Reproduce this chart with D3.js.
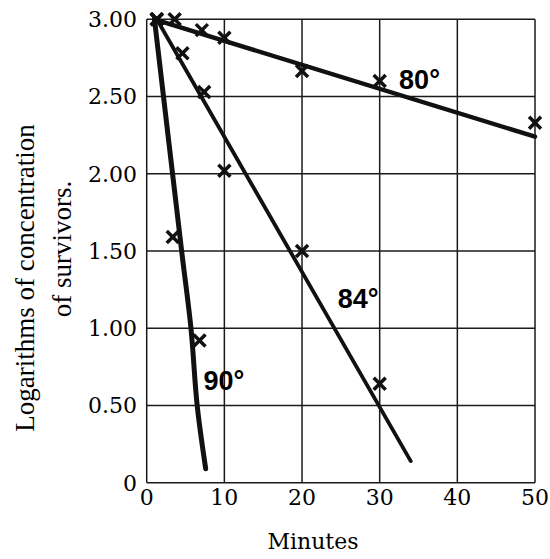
<!DOCTYPE html>
<html>
<head>
<meta charset="utf-8">
<script src="https://cdn.jsdelivr.net/npm/d3@7"></script>
<style>
  html, body { margin: 0; padding: 0; background: #fff; }
  svg { display: block; }
</style>
</head>
<body>
<svg id="chart" width="550" height="559"></svg>
<script>
// ticks
const xTicks = [0, 10, 20, 30, 40, 50];
const xTickLabels = ['0', '10', '20', '30', '40', '50'];
const yTicks = [0, 0.5, 1, 1.5, 2, 2.5, 3];
const yTickLabels = ['0', '0.50', '1.00', '1.50', '2.00', '2.50', '3.00'];

// observed points (minutes, log concentration)
const pts80 = [[1.3, 3.00], [3.6, 3.00], [7.1, 2.93], [10, 2.88], [20, 2.665], [30, 2.60], [50, 2.33]];
const pts84 = [[1.3, 3.00], [4.6, 2.78], [7.4, 2.53], [10, 2.02], [20, 1.50], [30, 0.64]];
const pts90 = [[1.3, 3.00], [3.35, 1.59], [6.8, 0.92]];

// drawn fit lines
const line80 = [[1, 3.00], [50, 2.24]];
const line84 = [[1.3, 3.00], [34, 0.14]];
const line90 = [[1, 3.00], [4.5, 1.5], [5.7, 1.0], [6.5, 0.5], [7.6, 0.09]];

const labels = [
  { text: '80°', at: [32.5, 2.55] },
  { text: '84°', at: [24.6, 1.13] },
  { text: '90°', at: [7.3, 0.60] }
];

const svg = d3.select('#chart');
const x = d3.scaleLinear().domain([0, 50]).range([146.7, 535]);
const y = d3.scaleLinear().domain([0, 3]).range([482.7, 19.3]);

// grid
const grid = svg.append('g').attr('stroke', '#1a1a1a').attr('stroke-width', 1.5);
grid.selectAll('line.v').data(xTicks).enter().append('line')
  .attr('x1', d => x(d)).attr('x2', d => x(d))
  .attr('y1', y(3)).attr('y2', y(0));
grid.selectAll('line.h').data(yTicks).enter().append('line')
  .attr('y1', d => y(d)).attr('y2', d => y(d))
  .attr('x1', x(0)).attr('x2', x(50));

// tick labels
svg.append('g').selectAll('text').data(yTicks).enter().append('text')
  .attr('x', 137).attr('y', d => y(d)).attr('dy', '0.36em')
  .attr('text-anchor', 'end')
  .attr('font-family', 'DejaVu Serif').attr('font-size', 22)
  .text((d, i) => yTickLabels[i]);

svg.append('g').selectAll('text').data(xTicks).enter().append('text')
  .attr('x', d => x(d)).attr('y', 505)
  .attr('text-anchor', 'middle')
  .attr('font-family', 'DejaVu Serif').attr('font-size', 22)
  .text((d, i) => xTickLabels[i]);

// axis titles
svg.append('text')
  .attr('transform', 'translate(34,278) rotate(-90)')
  .attr('text-anchor', 'middle')
  .attr('font-family', 'Liberation Serif').attr('font-size', 27)
  .text('Logarithms of concentration');
svg.append('text')
  .attr('transform', 'translate(71,249) rotate(-90)')
  .attr('text-anchor', 'middle')
  .attr('font-family', 'Liberation Serif').attr('font-size', 27)
  .text('of survivors.');
svg.append('text')
  .attr('x', 313).attr('y', 549)
  .attr('text-anchor', 'middle')
  .attr('font-family', 'DejaVu Serif').attr('font-size', 22)
  .text('Minutes');

// fitted lines
const path = d3.line().x(d => x(d[0])).y(d => y(d[1])).curve(d3.curveCatmullRom);
[[line80, 4.5], [line84, 3.8], [line90, 5]].forEach(([pts, w]) => {
  svg.append('path').datum(pts)
    .attr('d', path)
    .attr('fill', 'none').attr('stroke', '#111')
    .attr('stroke-width', w).attr('stroke-linecap', 'round');
});

// cross markers
const s = 6;
const marks = svg.append('g').attr('stroke', '#111').attr('stroke-width', 3.5);
[pts80, pts84, pts90].forEach(pts => {
  pts.forEach(p => {
    const cx = x(p[0]), cy = y(p[1]);
    marks.append('line').attr('x1', cx - s).attr('y1', cy - s).attr('x2', cx + s).attr('y2', cy + s);
    marks.append('line').attr('x1', cx - s).attr('y1', cy + s).attr('x2', cx + s).attr('y2', cy - s);
  });
});

// temperature labels
svg.append('g').selectAll('text').data(labels).enter().append('text')
  .attr('x', d => x(d.at[0])).attr('y', d => y(d.at[1]))
  .attr('font-family', 'Liberation Sans').attr('font-weight', 'bold')
  .attr('font-size', 27)
  .text(d => d.text);
</script>
</body>
</html>
